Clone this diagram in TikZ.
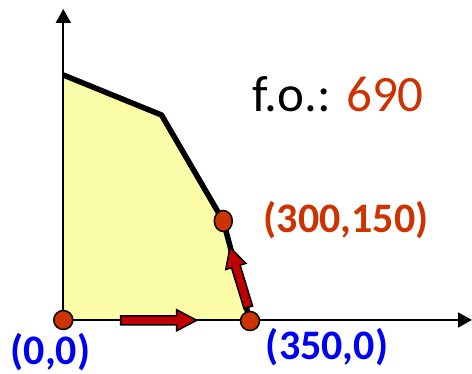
\documentclass[tikz,border=0pt]{standalone}
\usepackage{fontspec}
\setmainfont{Carlito}
\usepackage{xcolor}
\usepackage{tikz}
\usetikzlibrary{arrows.meta, positioning, shapes.geometric, calc}
\definecolor{regionyellow}{RGB}{250, 252, 168}
\definecolor{vertexorange}{RGB}{204, 51, 0}
\definecolor{pathred}{RGB}{192, 0, 0}
\definecolor{labelblue}{RGB}{0, 0, 240}

\tikzset{
  pics/stepmove/.style={code={
    \draw[draw=black, fill=pathred, line width=1.5pt, line join=miter]
      (0,-4.5) -- (#1-20,-4.5) -- (#1-20,-10.5) -- (#1,0) -- (#1-20,10.5) -- (#1-20,4.5) -- (0,4.5) -- cycle;
  }}
}

\begin{document}
\begin{tikzpicture}[
  x=1pt, y=1pt,
  every node/.style={inner sep=0pt},
  axisline/.style={line width=2pt, -{Triangle[length=14pt, width=15pt]}},
  frontier/.style={line width=5.5pt, line join=round},
  region/.style={fill=regionyellow},
  vertex/.style={circle, draw=black, line width=1.5pt, fill=vertexorange, minimum size=19pt},
  blueval/.style={font=\fontsize{42}{50}\selectfont\bfseries, text=labelblue, anchor=base},
  orangeval/.style={font=\fontsize{42}{50}\selectfont\bfseries, text=vertexorange, anchor=base}
]
  \useasboundingbox (0,0) rectangle (472,374);

  % Vertici della regione
  \coordinate (p00) at (63.3, 54);
  \coordinate (p350) at (250, 53);
  \coordinate (p300) at (223.3, 153);
  \coordinate (c1) at (63.3, 299);
  \coordinate (c2) at (161.5, 259);
  \coordinate (xend) at (472, 54);
  \coordinate (yend) at (63.3, 365);

  \fill[region] (p00) -- (c1) -- (c2) -- (p300) -- (p350) -- cycle;

  % Assi
  \draw[axisline] (p00) -- (xend);
  \draw[axisline] (p00) -- (yend);

  \draw[frontier] (c1) -- (c2) -- (p300) -- (p350);

  % Passi del simplesso
  \pic at (120.7, 53.7) {stepmove=76};
  \pic[rotate=107] at (248.3, 66.7) {stepmove=62.7};

  \node[vertex] (v00) at (p00) {};
  \node[vertex] (v350) at (p350) {};
  \node[vertex, ellipse, minimum width=18pt, minimum height=21pt] (v300) at (p300) {};

  % Etichette
  \node[blueval] (l00) at (50.5, 9) {(0,0)};
  \node[blueval] (l350) at (327, 14) {(350,0)};
  \node[orangeval] (l300) at (346, 141) {(300,150)};
  \node[font=\fontsize{51}{60}\selectfont, anchor=base] (fo) at (338, 262) {f.o.: \textcolor{vertexorange}{690}};

\end{tikzpicture}
\end{document}
